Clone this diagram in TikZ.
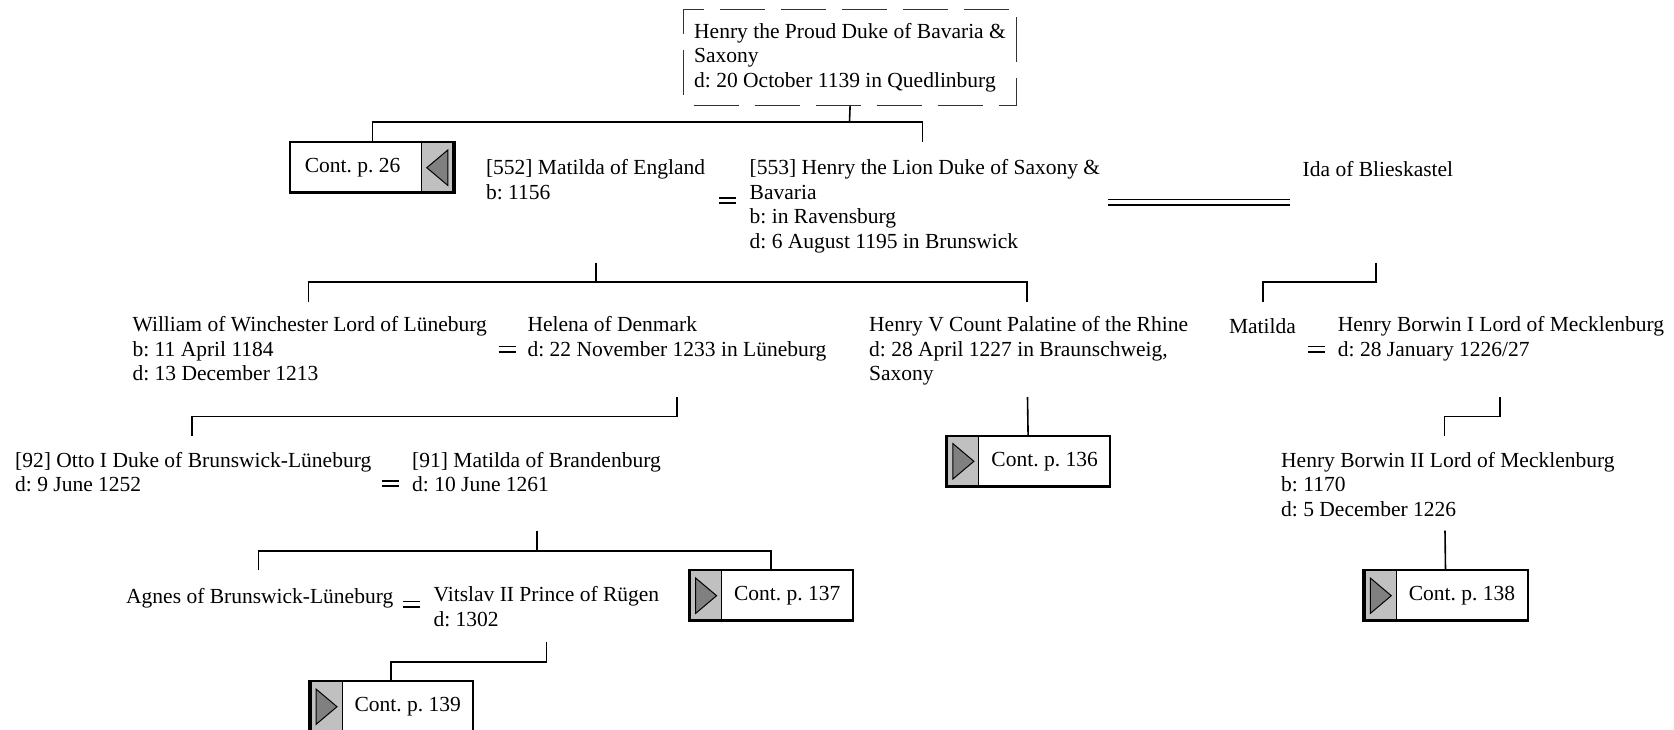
\documentclass[tikz,border=0pt]{standalone}
\usepackage{fontspec}
\setmainfont{Liberation Serif}
\frenchspacing
\definecolor{contgrey}{HTML}{C0C0C0}
\definecolor{contdark}{HTML}{808080}
\newcommand\contRight[4]{%
  \node[cbox,anchor=north west] (#1) at (#2,#3) {};
  \draw[fill=contgrey, line width=1pt] (#1.north west) rectangle ([xshift=33pt]#1.south west);
  \draw[fill=contdark, line width=1pt] ([xshift=7pt,yshift=-8pt]#1.north west) -- ([xshift=28pt]#1.west) -- ([xshift=7pt,yshift=8pt]#1.south west) -- cycle;
  \draw[line width=2pt] (#1.north west) rectangle (#1.south east);
  \draw[line width=3pt] ([xshift=1pt]#1.north west) -- ([xshift=1pt]#1.south west);
  \draw[line width=3pt] ([yshift=1pt]#1.south west) -- ([yshift=1pt]#1.south east);
  \node[ctxt] at ([xshift=16.5pt]#1.center) {#4};
}
\newcommand\contLeft[4]{%
  \node[cbox,anchor=north west] (#1) at (#2,#3) {};
  \draw[fill=contgrey, line width=1pt] (#1.north east) rectangle ([xshift=-33pt]#1.south east);
  \draw[fill=contdark, line width=1pt] ([xshift=-7pt,yshift=-8pt]#1.north east) -- ([xshift=-28pt]#1.east) -- ([xshift=-7pt,yshift=8pt]#1.south east) -- cycle;
  \draw[line width=2pt] (#1.north west) rectangle (#1.south east);
  \draw[line width=3pt] ([xshift=-1pt]#1.north east) -- ([xshift=-1pt]#1.south east);
  \draw[line width=3pt] ([yshift=1pt]#1.south west) -- ([yshift=1pt]#1.south east);
  \node[ctxt] at ([xshift=-20pt]#1.center) {#4};
}
\newcommand\marr[3]{%
  \draw[eqline] ([xshift=-8.5pt,yshift=2.6pt]#1) -- ([xshift=8.5pt,yshift=2.6pt]#1);
  \draw[eqline] ([xshift=-8.5pt,yshift=-2.6pt]#1) -- ([xshift=8.5pt,yshift=-2.6pt]#1);
}
\begin{document}
\begin{tikzpicture}[x=1pt,y=-1pt,
  txt/.style={anchor=north west, inner sep=0pt, align=left,
    font=\fontsize{21.5}{24.5}\selectfont, execute at begin node=\strut},
  ctxt/.style={inner sep=0pt, font=\fontsize{21.5}{24.5}\selectfont},
  cbox/.style={minimum width=164pt, minimum height=51pt, inner sep=0pt, fill=white},
  ln/.style={line width=1.6pt},
  eqline/.style={line width=1.8pt},
  dbox/.style={draw=black!80, line width=1.2pt, dash pattern=on 45pt off 16pt, dash phase=-10pt,
    minimum width=333pt, minimum height=96pt, inner sep=0pt, anchor=north west}]
\useasboundingbox (0,0) rectangle (1674,729);
\fill[white] (0,0) rectangle (1674,729);

% top box
\node[dbox] (proudbox) at (683,8.5) {};
\node[txt] (proud) at (694,23) {Henry the Proud Duke of Bavaria \&\\Saxony\\d: 20 October 1139 in Quedlinburg};

% generation 2
\contLeft{c26}{290.4}{142}{Cont. p. 26}
\node[txt] (matE) at (485.8,159.6) {[552] Matilda of England\\b: 1156};
\node[txt] (henryL) at (749.5,159.6) {[553] Henry the Lion Duke of Saxony \&\\Bavaria\\b: in Ravensburg\\d: 6 August 1195 in Brunswick};
\node[txt] (ida) at (1302.5,159.6) {Ida of Blieskastel};
\coordinate (m1) at (727,200.7);
\marr{m1}{}{}
\coordinate (dl1) at (1108,199.6);
\coordinate (dl2) at (1289.6,199.6);
\draw[ln] (dl1) -- (dl2);
\draw[ln] ([yshift=-5.4pt]dl1) -- ([yshift=-5.4pt]dl2);

\coordinate (hlTop) at (922.4,142);
\draw[ln] (proudbox.south) -- (849.5,121.7) coordinate (pj);
\draw[ln] (c26.north) |- (pj) -| (hlTop);

% generation 3
\coordinate (mhStem) at (595.7,262.6);
\coordinate (mhJ) at (595.7,281.8);
\coordinate (wTop) at (308.5,302);
\coordinate (hvTop) at (1027,302);
\draw[ln] (mhStem) -- (mhJ);
\draw[ln] (wTop) |- (mhJ) -| (hvTop);
\coordinate (idaStem) at (1376,262.6);
\coordinate (idaJ) at (1376,281.8);
\coordinate (matTop) at (1263,302);
\draw[ln] (idaStem) -- (idaJ) -| (matTop);

\node[txt] (william) at (132.4,316.5) {William of Winchester Lord of Lüneburg\\b: 11 April 1184\\d: 13 December 1213};
\node[txt] (helena) at (527.4,316.5) {Helena of Denmark\\d: 22 November 1233 in Lüneburg};
\node[txt] (henryV) at (869,316.5) {Henry V Count Palatine of the Rhine\\d: 28 April 1227 in Braunschweig,\\Saxony};
\node[txt] (matilda) at (1228.8,316.5) {Matilda};
\node[txt] (borwin1) at (1337.7,316.5) {Henry Borwin I Lord of Mecklenburg\\d: 28 January 1226/27};
\coordinate (m2) at (507,349);
\marr{m2}{}{}
\coordinate (m3) at (1316.4,349);
\marr{m3}{}{}

% generation 4
\contRight{c136}{945.9}{435.6}{Cont. p. 136}
\coordinate (hvStem) at (1027.5,397);
\draw[ln] (hvStem) -- (c136.north);
\coordinate (whStem) at (676.9,397);
\coordinate (whJ) at (676.9,416.4);
\coordinate (ottoTop) at (192.2,435.6);
\draw[ln] (whStem) -- (whJ) -| (ottoTop);
\coordinate (bStem) at (1500,397);
\coordinate (bJ) at (1500,416.4);
\coordinate (b2Top) at (1444.5,435.6);
\draw[ln] (bStem) -- (bJ) -| (b2Top);

\node[txt] (otto) at (15,452) {[92] Otto I Duke of Brunswick-Lüneburg\\d: 9 June 1252};
\node[txt] (matB) at (412,452) {[91] Matilda of Brandenburg\\d: 10 June 1261};
\node[txt] (borwin2) at (1281,452) {Henry Borwin II Lord of Mecklenburg\\b: 1170\\d: 5 December 1226};
\coordinate (m4) at (390.7,483.6);
\marr{m4}{}{}

% generation 5
\contRight{c137}{688.6}{570}{Cont. p. 137}
\contRight{c138}{1363.3}{570}{Cont. p. 138}
\coordinate (omStem) at (537,530.6);
\coordinate (omJ) at (537,550.9);
\coordinate (agTop) at (258.4,570);
\draw[ln] (omStem) -- (omJ);
\draw[ln] (agTop) |- (omJ) -| (c137.north);
\coordinate (b2Stem) at (1445,530.6);
\draw[ln] (b2Stem) -- (c138.north);

\node[txt] (agnes) at (126,586.6) {Agnes of Brunswick-Lüneburg};
\node[txt] (vitslav) at (433.4,586.6) {Vitslav II Prince of Rügen\\d: 1302};
\coordinate (m5) at (411,604);
\marr{m5}{}{}

% generation 6
\contRight{c139}{309}{681}{Cont. p. 139}
\coordinate (avStem) at (546.6,641.6);
\coordinate (avJ) at (546.6,662);
\draw[ln] (avStem) -- (avJ) -| (c139.north);
\end{tikzpicture}
\end{document}
